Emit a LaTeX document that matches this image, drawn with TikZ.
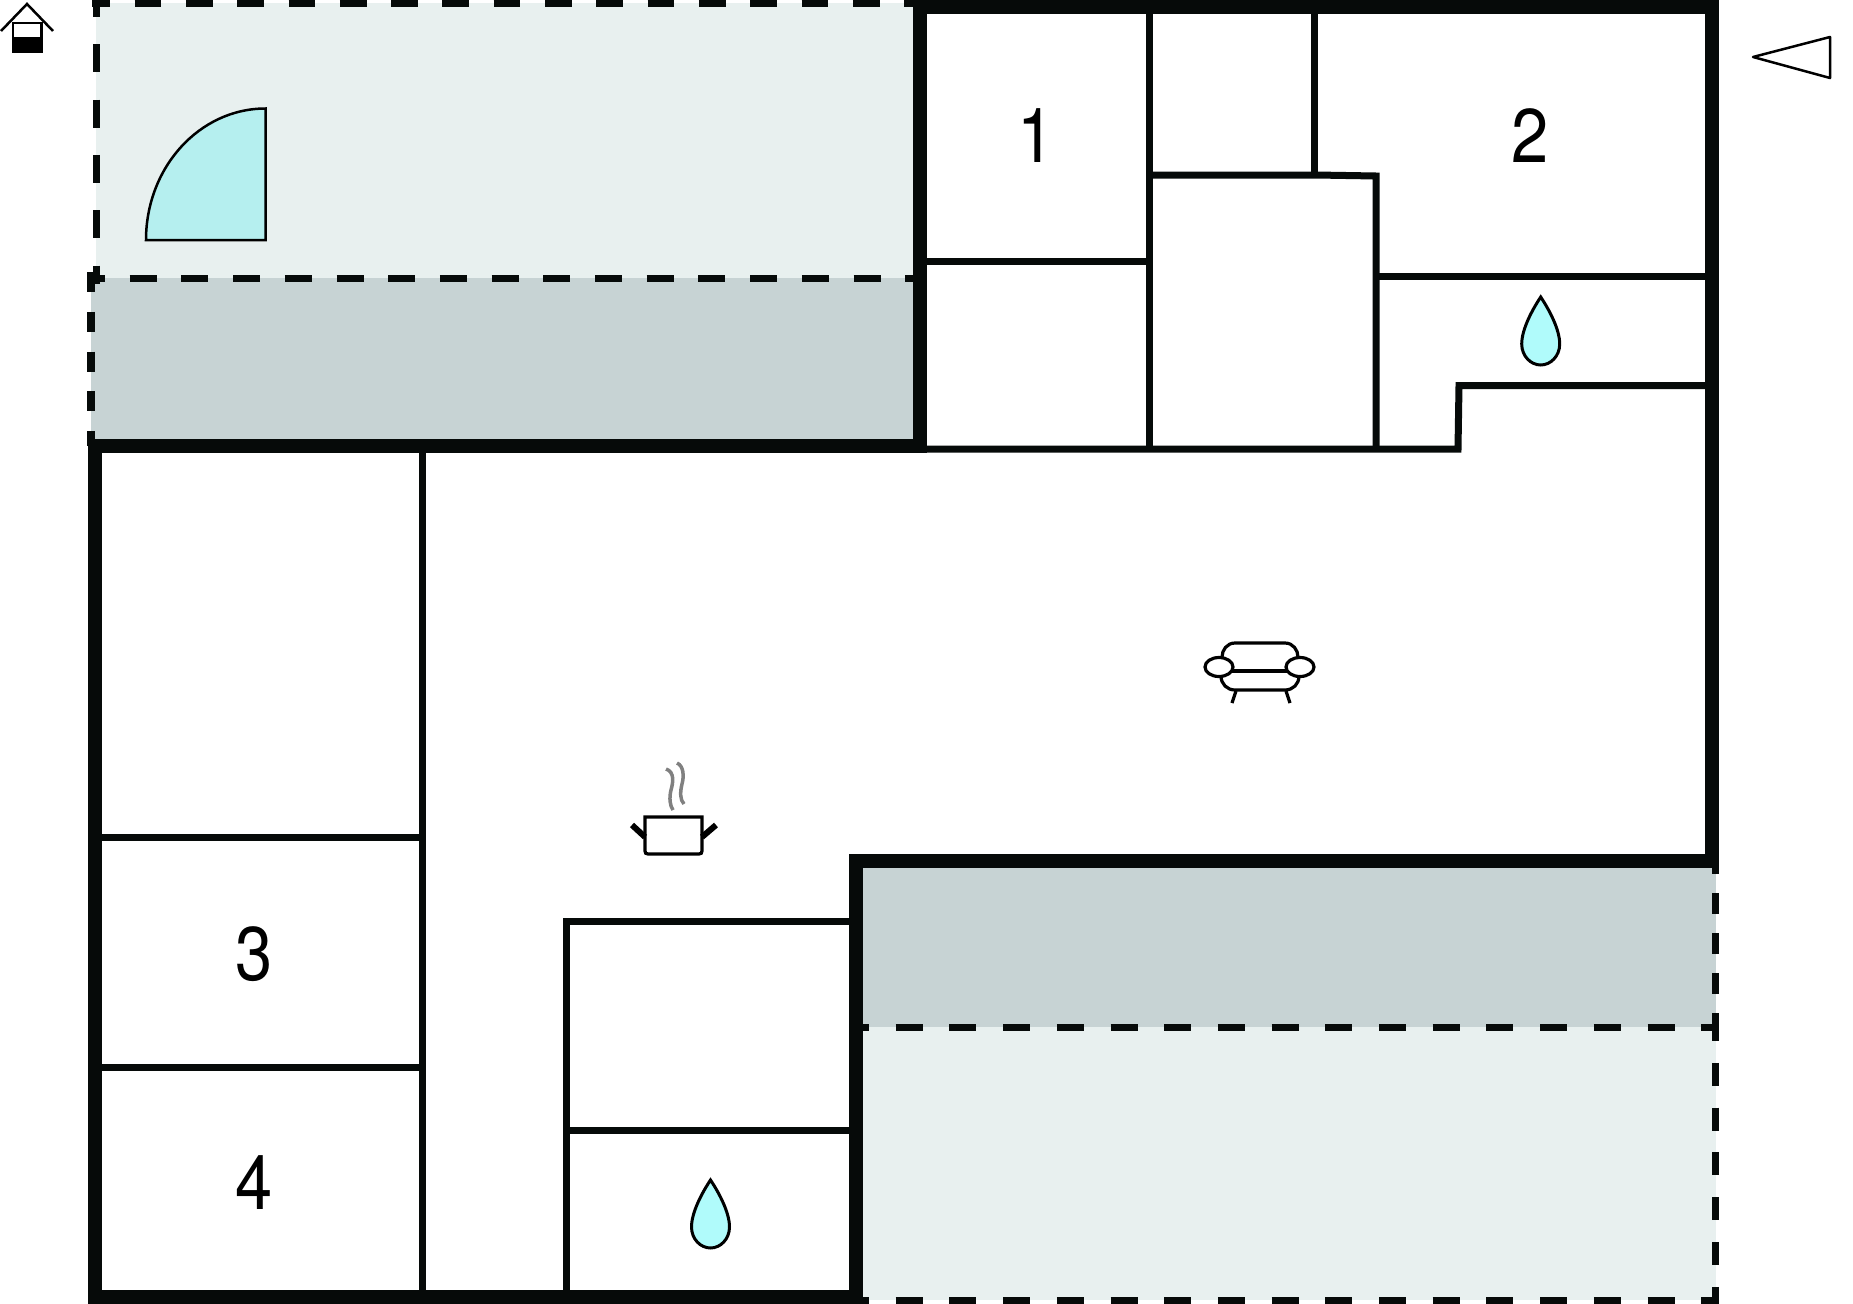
\documentclass[tikz,border=0pt]{standalone}
\usepackage{fontspec}
\setmainfont{TeX Gyre Heros}
\definecolor{wallblack}{HTML}{060A09}
\definecolor{terrace}{HTML}{E8F0EF}
\definecolor{balcony}{HTML}{C7D3D4}
\definecolor{doorblue}{HTML}{B5EFEF}
\definecolor{dropblue}{HTML}{B0FBFB}
\tikzset{
    wall/.style={draw=wallblack, line width=14pt, miter limit=10},
    thinwall/.style={draw=wallblack, line width=7pt},
    dashwall/.style={draw=wallblack, line width=7.5pt},
    icon/.style={draw=black, line width=2.5pt},
    sofaline/.style={draw=black, line width=3.2pt},
    roomnum/.style={font=\fontsize{76}{76}\selectfont, inner sep=0pt, xscale=0.88},
    waterdrop/.pic={
        \draw[icon, line width=3pt, fill=dropblue] (0,0) .. controls (-8,12) and (-19,32) .. (-19,47)
            .. controls (-19,59) and (-10,68) .. (0,68)
            .. controls (10,68) and (19,59) .. (19,47)
            .. controls (19,32) and (8,12) .. (0,0) -- cycle;
    }
}
\begin{document}
\begin{tikzpicture}[x=1pt, y=-1pt]
            \useasboundingbox (0,0) rectangle (1853,1304);

            % Floors
            \fill[terrace] (96,3) rectangle (913,278);
            \fill[balcony] (91,278) rectangle (913,446);
            \fill[balcony] (862,868) rectangle (1716,1027);
            \fill[terrace] (862,1027) rectangle (1716,1300);

            % Dashed edges
            \draw[dashwall, dash pattern=on 28pt off 27.3pt] (96.5,-11) -- (96.5,284);
            \draw[dashwall, dash pattern=on 26.7pt off 24.6pt, dash phase=8.7pt] (92,3.5) -- (919,3.5);
            \draw[dashwall, dash pattern=on 27pt off 24.7pt, dash phase=10pt] (88,278.5) -- (919,278.5);
            \draw[dashwall, dash pattern=on 20pt off 19.8pt] (91,272) -- (91,446);
            \draw[dashwall, dash pattern=on 20.5pt off 19.6pt] (1715.5,853) -- (1715.5,1033);
            \draw[dashwall, dash pattern=on 23pt off 21.8pt] (1715.5,1018) -- (1715.5,1304);
            \draw[dashwall, dash pattern=on 27pt off 26.7pt, dash phase=13pt] (855,1027.5) -- (1715,1027.5);
            \draw[dashwall, dash pattern=on 27pt off 26.7pt, dash phase=13pt] (855,1300.5) -- (1719,1300.5);

            % Walls
            \draw[wall] (94.5,1297) -- (94.5,446) -- (919.5,446) -- (919.5,6.5) -- (1712,6.5)
                -- (1712,860.5) -- (855.5,860.5) -- (855.5,1297) -- cycle;

            % Inner walls
            \draw[thinwall] (1149,6) -- (1149,449);
            \draw[thinwall] (1314,6) -- (1314,175);
            \draw[thinwall] (1149,175) -- (1316,175) -- (1376,176) -- (1376,449);
            \draw[thinwall] (919,261.5) -- (1149,261.5);
            \draw[thinwall] (1376,276) -- (1712,276);
            \draw[thinwall] (1712,385.5) -- (1459,385.5) -- (1458,449) -- (919,449);
            \draw[thinwall] (422,446) -- (422,1297);
            \draw[thinwall] (94,837.5) -- (422,837.5);
            \draw[thinwall] (94,1067.5) -- (422,1067.5);
            \draw[thinwall] (566,1297) -- (566,921.5) -- (855,921.5);
            \draw[thinwall] (566,1130) -- (855,1130);

            % Door
            \draw[icon, fill=doorblue] (146,240) arc[start angle=180, end angle=90, x radius=119.5, y radius=-131.5] -- (265.5,240) -- cycle;

            % House and triangle
            \draw[icon] (1,31) -- (27,4) -- (53,31);
            \draw[icon] (13,23) rectangle (41.5,52);
            \fill[black] (12,37) rectangle (42.5,52.5);
            \draw[icon, line join=round] (1753,57) -- (1830,37) -- (1830,78) -- cycle;

            % Drops
            \pic at (1540.7,297) {waterdrop};
            \pic at (710.5,1180) {waterdrop};

            % Sofa
            \draw[sofaline] (1222,657) .. controls (1222,650) and (1227,643) .. (1235,643) -- (1285,643)
                .. controls (1293,643) and (1298,650) .. (1298,657);
            \draw[sofaline] (1221,676) .. controls (1221,684) and (1227,690) .. (1235,690) -- (1285,690)
                .. controls (1293,690) and (1299,684) .. (1299,676);
            \draw[sofaline] (1232,671) -- (1287,671);
            \draw[sofaline] (1219,667) ellipse[x radius=14, y radius=9.5];
            \draw[sofaline] (1300,667) ellipse[x radius=14, y radius=9.5];
            \draw[sofaline] (1236,691) -- (1232,703);
            \draw[sofaline] (1286,691) -- (1290,703);

            % Pot
            \draw[sofaline] (645,817) -- (702,817) -- (702,851) .. controls (702,853) and (701,854) .. (699,854)
                -- (648,854) .. controls (646,854) and (645,853) .. (645,851) -- cycle;
            \draw[sofaline, line width=6pt] (632,825) -- (645,837);
            \draw[sofaline, line width=6pt] (716,825) -- (702,837);
            \draw[sofaline, draw=gray, line width=3.5pt] (666,769) .. controls (675,772) and (673,783) .. (671,790)
                .. controls (669,798) and (670,806) .. (673,810);
            \draw[sofaline, draw=gray, line width=3.5pt] (677,763) .. controls (684,766) and (684,777) .. (682,784)
                .. controls (680,792) and (680,800) .. (684,804);

            % Numbers
            \node[roomnum] (1) at (1036,136) {1};
            \node[roomnum] (2) at (1530,136) {2};
            \node[roomnum] (3) at (254.5,954) {3};
            \node[roomnum] (4) at (254.5,1183) {4};
        \end{tikzpicture}
\end{document}
